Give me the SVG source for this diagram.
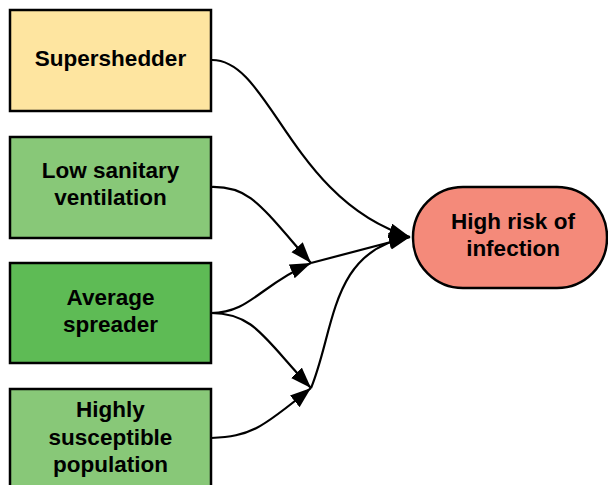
<svg xmlns="http://www.w3.org/2000/svg" width="608" height="485" viewBox="0 0 608 485">
<defs>
<marker id="ah" markerUnits="userSpaceOnUse" markerWidth="22" markerHeight="16" refX="21" refY="7.5" orient="auto">
<path d="M0,0 L21,7.5 L0,15 z" fill="#000"/>
</marker>
<style>
.box{stroke:#000;stroke-width:2.5}
.t{font-family:"Liberation Sans",Arial,sans-serif;font-weight:bold;font-size:22.5px;text-anchor:middle;fill:#000}
.e{fill:none;stroke:#000;stroke-width:2.2}
</style>
</defs>
<g id="connectors">
<path class="e" d="M211,60 C270,58 290,200 410,237" marker-end="url(#ah)"/>
<path class="e" d="M211,187 C250,186 260,205 311,263" marker-end="url(#ah)"/>
<path class="e" d="M211,313 C250,313 260,285 311,263" marker-end="url(#ah)"/>
<path class="e" d="M211,313 C255,313 265,340 311,388" marker-end="url(#ah)"/>
<path class="e" d="M211,438 C250,436 260,430 311,388" marker-end="url(#ah)"/>
<path class="e" d="M311,263 L410,237" marker-end="url(#ah)"/>
<path class="e" d="M311,388 C335,330 330,250 410,237" marker-end="url(#ah)"/>
</g>
<g id="supershedder">
<rect class="box" x="10" y="10" width="201" height="101" fill="#FEE5A0"/>
<text class="t" x="110.5" y="66">Supershedder</text>
</g>
<g id="low-sanitary">
<rect class="box" x="10" y="137" width="201" height="101" fill="#88C878"/>
<text class="t" x="110.5" y="178">Low sanitary</text>
<text class="t" x="110.5" y="205">ventilation</text>
</g>
<g id="average-spreader">
<rect class="box" x="10" y="263" width="201" height="100" fill="#5EBB55"/>
<text class="t" x="110.5" y="305">Average</text>
<text class="t" x="110.5" y="332">spreader</text>
</g>
<g id="highly-susceptible">
<rect class="box" x="10" y="389" width="201" height="101" fill="#88C878"/>
<text class="t" x="110.5" y="417">Highly</text>
<text class="t" x="110.5" y="445">susceptible</text>
<text class="t" x="110.5" y="472">population</text>
</g>
<g id="high-risk">
<rect class="box" x="413" y="187" width="194" height="101" rx="50" ry="50" fill="#F48A7A"/>
<text class="t" x="513" y="229">High risk of</text>
<text class="t" x="513" y="256">infection</text>
</g>
</svg>
